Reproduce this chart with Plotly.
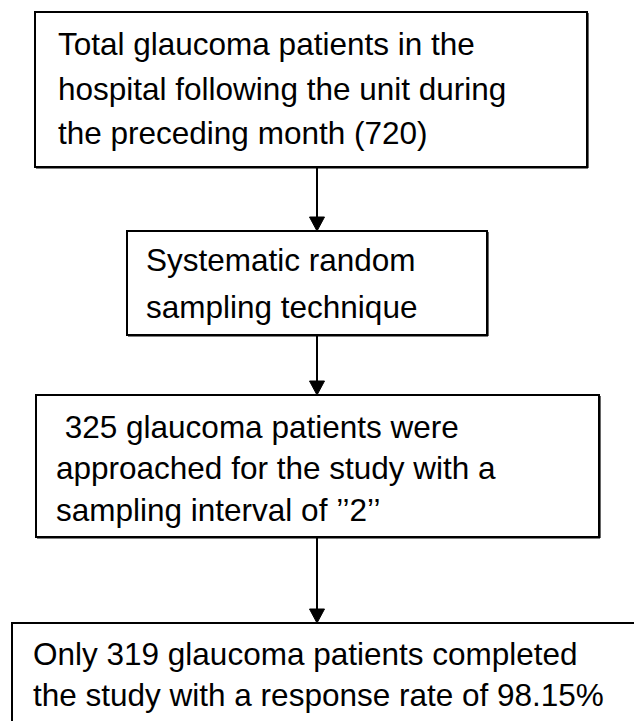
import plotly.graph_objects as go

W, H = 634, 721

# Flowchart content
box_lines = [
    ["Total glaucoma patients in the",
     "hospital following the unit during",
     "the preceding month (720)"],
    ["Systematic random",
     "sampling technique"],
    [" 325 glaucoma patients were",
     "approached for the study with a",
     "sampling interval of \u2019\u20192\u2019\u2019"],
    ["Only 319 glaucoma patients completed",
     "the study with a response rate of 98.15%"],
]

# Layout geometry (pixels): x0, y0, x1, y1
box_geom = [
    (35, 12, 587, 167),
    (127, 231, 487, 335),
    (36, 395, 599, 537),
    (12, 623, 660, 760),
]
text_left = [56, 144, 54, 31]
line_y = [
    [44, 89, 133],
    [260, 307],
    [427, 468, 510],
    [654, 695],
]
arrow_x = 317
FS = 31.5

fig = go.Figure()
shapes = []
annotations = []

for (x0, y0, x1, y1) in box_geom:
    shapes.append(dict(type="rect", xref="x", yref="y", x0=x0, y0=y0, x1=x1, y1=y1,
                       line=dict(color="black", width=2), fillcolor="rgba(0,0,0,0)"))
    # slightly heavier right/bottom edges (print shadow)
    shapes.append(dict(type="line", xref="x", yref="y", x0=x1 + 1, x1=x1 + 1, y0=y0 + 1, y1=y1 + 1,
                       line=dict(color="black", width=1.2)))
    shapes.append(dict(type="line", xref="x", yref="y", x0=x0 + 1, x1=x1 + 1, y0=y1 + 1, y1=y1 + 1,
                       line=dict(color="black", width=1.2)))

for i, lines in enumerate(box_lines):
    for j, t in enumerate(lines):
        annotations.append(dict(x=text_left[i], y=line_y[i][j], xref="x", yref="y",
                                text=t, showarrow=False, xanchor="left", yanchor="middle",
                                font=dict(family="Liberation Sans, Arial", size=FS, color="black")))

for i in range(len(box_geom) - 1):
    ystart = box_geom[i][3] + 1
    yend = box_geom[i + 1][1]
    head = 14
    shapes.append(dict(type="line", xref="x", yref="y", x0=arrow_x, x1=arrow_x,
                       y0=ystart, y1=yend - head + 1, line=dict(color="black", width=2)))
    shapes.append(dict(type="path", xref="x", yref="y",
                       path=f"M {arrow_x-7.5},{yend-head} L {arrow_x+7.5},{yend-head} L {arrow_x},{yend} Z",
                       fillcolor="black", line=dict(color="black", width=1)))

fig.update_layout(
    width=W, height=H,
    margin=dict(l=0, r=0, t=0, b=0),
    paper_bgcolor="white", plot_bgcolor="white",
    xaxis=dict(range=[0, W], visible=False, fixedrange=True),
    yaxis=dict(range=[H, 0], visible=False, fixedrange=True),
    shapes=shapes, annotations=annotations, showlegend=False,
)

fig.write_html("out.html", config={"displayModeBar": False},
               post_script="document.body.style.margin='0';document.body.style.overflow='hidden';")
